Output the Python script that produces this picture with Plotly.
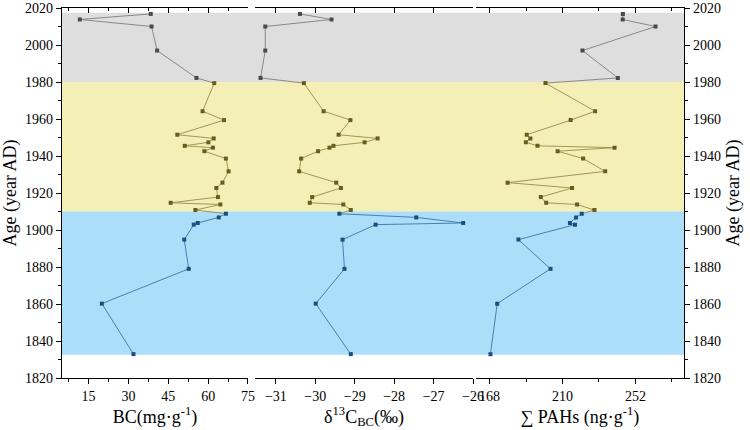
import plotly.graph_objects as go

# ---- data ----
years = [2016.8, 2013.8, 2010.0, 1997.0, 1982.2,
         1979.4, 1964.2, 1959.4, 1951.5, 1949.5, 1947.4, 1945.5, 1944.5, 1942.6,
         1938.6, 1931.7, 1925.6, 1922.7, 1917.8, 1914.7, 1913.8, 1910.8,
         1908.8, 1906.8, 1903.8, 1902.9, 1894.8, 1879.0, 1860.2, 1832.9]
bc = [38.4, 11.7, 38.7, 40.8, 55.6,
      62.3, 57.9, 66.0, 48.4, 62.1, 60.1, 51.2, 61.8, 58.6,
      66.7, 67.7, 65.4, 63.1, 63.7, 45.9, 64.6, 55.2,
      66.7, 64.0, 56.1, 54.6, 51.0, 52.7, 20.0, 31.9]
d13c = [-30.39, -29.59, -31.27, -31.27, -31.39,
        -30.29, -29.79, -29.11, -29.41, -28.42, -28.75, -29.54, -29.64, -29.93,
        -30.36, -30.41, -29.47, -29.35, -30.08, -30.14, -29.29, -29.10,
        -29.39, -27.44, -26.25, -28.47, -29.31, -29.26, -29.99, -29.10]
pahs = [244.8, 244.7, 263.6, 221.5, 241.9,
        200.2, 228.8, 214.7, 189.4, 191.5, 188.9, 195.6, 240.0, 207.2,
        221.9, 234.6, 178.4, 215.5, 197.5, 200.6, 218.4, 228.4,
        221.1, 217.8, 214.3, 217.2, 184.6, 203.1, 172.4, 168.5]

# periods: band edges (years) and number of samples in each period
period_edges = [2017.5, 1980.0, 1910.0, 1832.6]
period_counts = [5, 17, 8]

x_titles = ["BC(mg·g<sup>-1</sup>)", "δ<sup>13</sup>C<sub>BC</sub>(‰)", "∑ PAHs (ng·g<sup>-1</sup>)"]
bc_ticks = [15, 30, 45, 60, 75]
d13c_ticks = [-31, -30, -29, -28, -27, -26]
pahs_ticks = [168, 210, 252]
year_ticks = [1820, 1840, 1860, 1880, 1900, 1920, 1940, 1960, 1980, 2000, 2020]

# ---- styles ----
band_colors = ["#dedede", "#f4efb4", "#acdefa"]
line_colors = ["#7f7f7f", "#9a8c48", "#3b76a6"]
marker_colors = ["#4a4a4a", "#6a5c1c", "#1b4f7c"]
FONT = "Liberation Serif"

domains = [[0.0, 0.299], [0.3103, 0.6608], [0.6651, 1.0]]
ranges = [[5, 75], [-31.53, -26], [160, 280]]
tickvals = [bc_ticks, d13c_ticks, pahs_ticks]
minors = [[7.5, 22.5, 37.5, 52.5, 67.5], None, [189, 231, 273]]
series = [bc, d13c, pahs]

fig = go.Figure()

# background bands
for i, col in enumerate(band_colors):
    fig.add_shape(type="rect", xref="paper", yref="y",
                  x0=0, x1=1, y0=period_edges[i + 1], y1=period_edges[i],
                  fillcolor=col, line_width=0, layer="below")

for p in range(3):
    xa = "x" if p == 0 else f"x{p+1}"
    vals = series[p]
    start = 0
    for s, cnt in enumerate(period_counts):
        end = start + cnt
        lend = min(end + 1, len(vals))
        fig.add_trace(go.Scatter(x=vals[start:lend], y=years[start:lend], xaxis=xa, yaxis="y",
                                 mode="lines", line=dict(color=line_colors[s], width=0.9),
                                 showlegend=False, hoverinfo="skip"))
        fig.add_trace(go.Scatter(x=vals[start:end], y=years[start:end], xaxis=xa, yaxis="y",
                                 mode="markers",
                                 marker=dict(symbol="square", size=4, color=marker_colors[s]),
                                 showlegend=False))
        start = end
    # empty trace so the top axis of this panel is drawn
    fig.add_trace(go.Scatter(x=[None], y=[None], xaxis=f"x{p+4}", yaxis="y",
                             mode="markers", showlegend=False, hoverinfo="skip"))
# empty trace so the right y axis is drawn
fig.add_trace(go.Scatter(x=[None], y=[None], xaxis="x3", yaxis="y2",
                         mode="markers", showlegend=False, hoverinfo="skip"))

tickfont = dict(family=FONT, size=14, color="black")
titlefont = dict(family=FONT, size=18, color="black")

layout = dict(
    width=750, height=430,
    margin=dict(l=62, r=66, t=8, b=52),
    plot_bgcolor="rgba(0,0,0,0)", paper_bgcolor="white",
    showlegend=False,
)

for p in range(3):
    key = "xaxis" if p == 0 else f"xaxis{p+1}"
    minor = minors[p]
    ax = dict(domain=domains[p], range=ranges[p], anchor="y", automargin=False,
              showgrid=False, zeroline=False,
              showline=True, linecolor="black", linewidth=1.4,
              ticks="outside", ticklen=5, tickwidth=1.2, tickcolor="black",
              tickvals=tickvals[p], tickfont=tickfont,
              title=dict(text=x_titles[p], font=titlefont, standoff=0))
    if minor:
        ax["minor"] = dict(tickvals=minor, ticks="outside", ticklen=3,
                           tickwidth=1.1, tickcolor="black", showgrid=False)
    layout[key] = ax
    # top axes with inside ticks (same domain/range as the panel)
    tkey = f"xaxis{p+4}"
    tax = dict(domain=domains[p], range=ranges[p], anchor="y", side="top", automargin=False,
               overlaying="x" if p == 0 else f"x{p+1}",
               showgrid=False, zeroline=False,
               showline=True, linecolor="black", linewidth=1.4,
               ticks="inside", ticklen=5, tickwidth=1.2, tickcolor="black",
               tickvals=tickvals[p], showticklabels=False)
    if minor:
        tax["minor"] = dict(tickvals=minor, ticks="inside", ticklen=3,
                            tickwidth=1.1, tickcolor="black", showgrid=False)
    layout[tkey] = tax

yax_common = dict(range=[1820, 2020], showgrid=False, zeroline=False, automargin=False,
                  showline=True, linecolor="black", linewidth=1.4,
                  ticks="outside", ticklen=5, tickwidth=1.2, tickcolor="black",
                  tickvals=year_ticks, tickfont=tickfont, ticklabeloverflow="allow",
                  minor=dict(dtick=10, tick0=1820, ticks="outside", ticklen=3,
                             tickwidth=1.1, tickcolor="black", showgrid=False),
                  title=dict(text="Age (year AD)", font=titlefont, standoff=6))
layout["yaxis"] = dict(anchor="x", side="left", **yax_common)
layout["yaxis2"] = dict(anchor="x3", side="right", overlaying="y", **yax_common)

fig.update_layout(**layout)
fig.write_html("out.html")
